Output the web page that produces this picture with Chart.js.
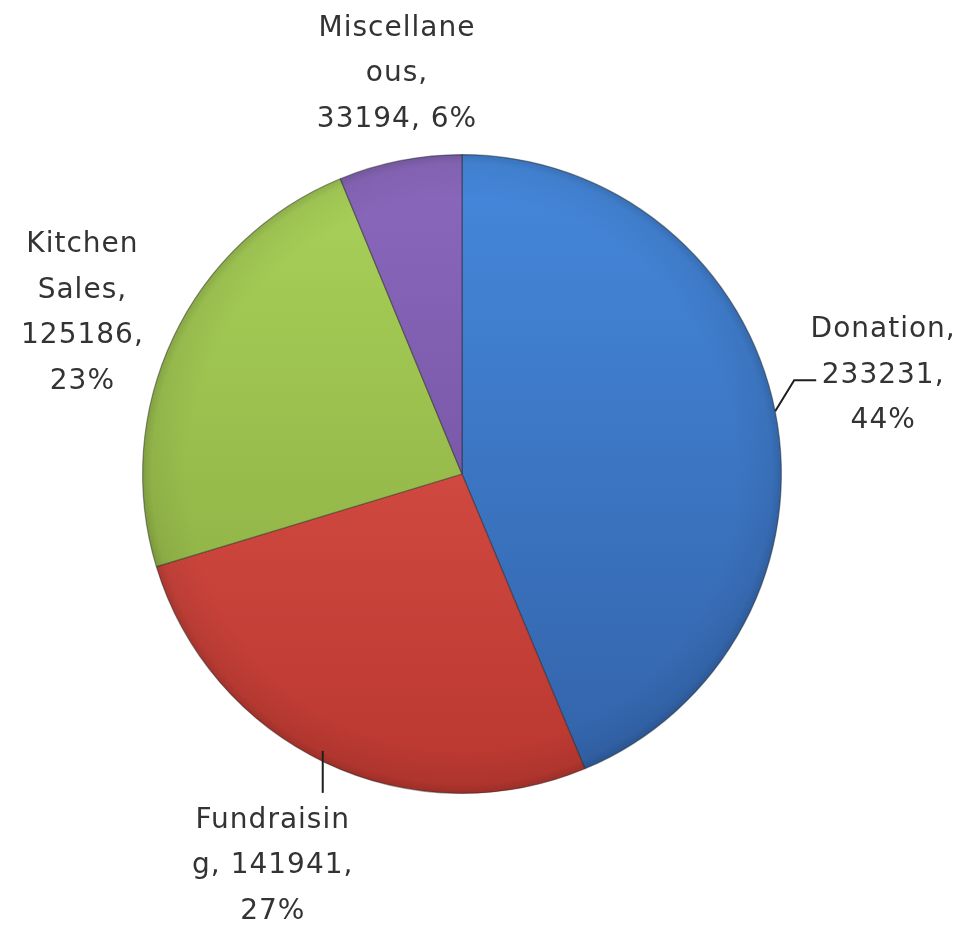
<!DOCTYPE html>
<html>
<head>
<meta charset="utf-8">
<script src="https://cdn.jsdelivr.net/npm/chart.js@4.4.1/dist/chart.umd.min.js"></script>
<style>
    html, body { margin: 0; padding: 0; background: #ffffff; }
    #wrap { width: 963px; height: 927px; position: relative; }
</style>
</head>
<body>
<div id="wrap"><canvas id="pie-chart"></canvas></div>
<script>
const categories = ["Donation", "Fundraising", "Kitchen Sales", "Miscellaneous"];
const amounts = [233231, 141941, 125186, 33194];
const percents = [44, 27, 23, 6];

// label text wrapped the way the original chart wraps it
const labelLines = [
    [categories[0] + ",", amounts[0] + ",", percents[0] + "%"],
    ["Fundraisin", "g, " + amounts[1] + ",", percents[1] + "%"],
    ["Kitchen", "Sales,", amounts[2] + ",", percents[2] + "%"],
    ["Miscellane", "ous,", amounts[3] + ", " + percents[3] + "%"]
];

// slice colours: light at top of pie, dark at bottom
const topColors = ["#4588dc", "#e85a50", "#aad25a", "#8a68bc"];
const bottomColors = ["#3262a8", "#b8372f", "#86a63e", "#6a4a98"];

// where each label block sits relative to the slice's outer mid point
const labelLayout = [
    { dx: 108, dy: -74, leader: [[19, -31], [41, -31]] },
    { dx: -53, dy: 65, leader: [[-3, -12], [-3, 30]] },
    { dx: -91, dy: -85, leader: null },
    { dx: -3, dy: -125, leader: null }
];

function sliceFill(c) {
    const chart = c.chart;
    const area = chart.chartArea;
    if (!area) return topColors[c.dataIndex];
    const g = chart.ctx.createLinearGradient(0, area.top, 0, area.bottom);
    g.addColorStop(0, topColors[c.dataIndex]);
    g.addColorStop(1, bottomColors[c.dataIndex]);
    return g;
}

const rimShade = {
    id: 'rimShade',
    afterDatasetsDraw(chart) {
        const arc = chart.getDatasetMeta(0).data[0];
        if (!arc) return;
        const ctx = chart.ctx;
        const r = arc.outerRadius;
        ctx.save();
        const g = ctx.createRadialGradient(arc.x, arc.y, r * 0.86, arc.x, arc.y, r);
        g.addColorStop(0, "rgba(0,0,0,0)");
        g.addColorStop(0.8, "rgba(0,0,0,0.06)");
        g.addColorStop(1, "rgba(0,0,0,0.16)");
        ctx.fillStyle = g;
        ctx.beginPath();
        ctx.arc(arc.x, arc.y, r, 0, Math.PI * 2);
        ctx.fill();
        ctx.restore();
    }
};

const sliceLabels = {
    id: 'sliceLabels',
    afterDraw(chart) {
        const ctx = chart.ctx;
        const meta = chart.getDatasetMeta(0);
        meta.data.forEach(function (arc, i) {
            const mid = (arc.startAngle + arc.endAngle) / 2;
            const ex = arc.x + Math.cos(mid) * arc.outerRadius;
            const ey = arc.y + Math.sin(mid) * arc.outerRadius;
            const lay = labelLayout[i];

            ctx.save();
            if (lay.leader) {
                ctx.strokeStyle = "#1e1e1e";
                ctx.lineWidth = 2;
                ctx.beginPath();
                if (i === 1) {
                    ctx.moveTo(ex + lay.leader[0][0], ey + lay.leader[0][1]);
                    ctx.lineTo(ex + lay.leader[1][0], ey + lay.leader[1][1]);
                } else {
                    ctx.moveTo(ex, ey);
                    lay.leader.forEach(function (p) { ctx.lineTo(ex + p[0], ey + p[1]); });
                }
                ctx.stroke();
            }
            ctx.fillStyle = "#333333";
            ctx.font = "28px 'DejaVu Sans'";
            ctx.letterSpacing = "1px";
            ctx.textAlign = "center";
            ctx.textBaseline = "alphabetic";
            labelLines[i].forEach(function (line, k) {
                ctx.fillText(line, ex + lay.dx, ey + lay.dy + k * 45.5);
            });
            ctx.restore();
        });
    }
};

new Chart(document.getElementById("pie-chart"), {
    type: 'pie',
    data: {
        labels: categories,
        datasets: [{
            data: amounts,
            backgroundColor: sliceFill,
            borderColor: "rgba(35,35,35,0.45)",
            borderWidth: 1.2
        }]
    },
    options: {
        responsive: true,
        maintainAspectRatio: false,
        animation: false,
        layout: {
            padding: { top: 154, bottom: 133, left: 142, right: 181 }
        },
        plugins: {
            legend: { display: false },
            tooltip: { enabled: false }
        }
    },
    plugins: [rimShade, sliceLabels]
});
</script>
</body>
</html>
